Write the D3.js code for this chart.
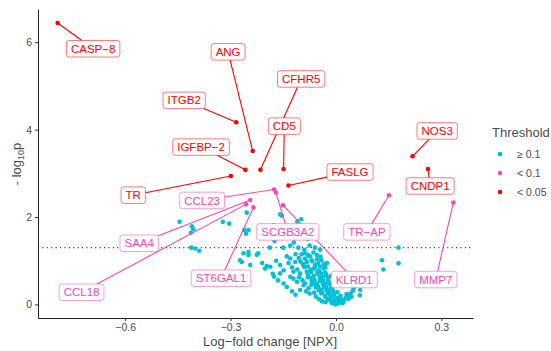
<!DOCTYPE html>
<html><head><meta charset="utf-8">
<script src="https://cdn.jsdelivr.net/npm/d3@7"></script>
<style>body{margin:0;background:#fff} text{font-family:"Liberation Sans",Arial,Helvetica,sans-serif}</style>
</head><body><svg id="c" width="551" height="351"></svg>
<script>
// ---- data ----
const redNames = ["CASP−8","ITGB2","ANG","IGFBP−2","CFHR5","CD5","FASLG","TR","NOS3","CNDP1"];
const redX = [-0.792,-0.284,-0.237,-0.258,-0.215,-0.149,-0.135,-0.299,0.218,0.262];
const redY = [6.44,4.17,3.51,3.08,3.08,3.10,2.72,2.94,3.39,3.10];
const redLabelX = [-0.691,-0.432,-0.307,-0.384,-0.099,-0.147,0.040,-0.577,0.288,0.268];
const redLabelY = [5.85,4.67,5.78,3.60,5.16,4.08,3.03,2.50,3.97,2.71];

const pinkNames = ["CCL23","SCGB3A2","SAA4","CCL18","ST6GAL1","KLRD1","TR−AP","MMP7"];
const pinkX = [-0.176,-0.171,-0.244,-0.256,-0.235,-0.151,0.151,0.334];
const pinkY = [2.63,2.56,2.39,2.29,2.22,2.27,2.50,2.33];
const pinkLabelX = [-0.381,-0.137,-0.560,-0.724,-0.327,0.052,0.088,0.284];
const pinkLabelY = [2.38,1.66,1.40,0.28,0.60,0.57,1.66,0.57];

const cyanX = [
 -0.445,-0.410,-0.406,-0.413,-0.412,-0.401,-0.389,-0.322,-0.304,-0.273,-0.263,-0.261,-0.256,-0.249,-0.254,-0.221,-0.159,-0.249,-0.225,-0.268,-0.244,-0.249,
 -0.154,-0.099,-0.110,-0.178,-0.160,-0.125,-0.095,-0.140,-0.080,-0.175,-0.120,-0.188,-0.150,-0.107,-0.130,-0.090,
 -0.159,-0.130,-0.116,-0.093,-0.069,-0.054,-0.088,-0.149,-0.121,-0.102,-0.064,-0.202,-0.187,-0.159,-0.121,-0.111,-0.149,-0.102,-0.088,-0.078,-0.130,-0.197,-0.176,
 -0.098,-0.079,-0.064,-0.044,-0.106,-0.088,-0.074,-0.054,-0.042,-0.101,-0.083,-0.067,-0.051,-0.035,-0.093,-0.080,-0.060,-0.046,-0.032,
 -0.090,-0.072,-0.059,-0.048,-0.035,-0.083,-0.070,-0.053,-0.042,-0.030,-0.080,-0.063,-0.052,-0.038,-0.028,-0.071,-0.061,-0.046,-0.036,-0.023,
 -0.069,-0.054,-0.045,-0.030,-0.021,-0.061,-0.050,-0.037,-0.028,-0.016,-0.057,-0.043,-0.034,-0.022,-0.014,-0.048,-0.039,-0.027,-0.019,-0.008,
 -0.042,-0.030,-0.022,-0.011,-0.005,-0.031,-0.023,-0.012,-0.006,0.004,-0.024,-0.013,-0.007,0.002,0.009,-0.011,-0.002,0.006,
 0.012,0.016,0.022,0.027,0.031,0.036,0.040,0.044,0.047,0.050,0.055,0.060,0.069,0.068,0.030,0.019,
 0.178,0.131,0.135,0.178,
 -0.140,-0.125,-0.110,-0.105,-0.095,-0.092,-0.085,-0.075,-0.070,-0.080,-0.062,-0.057,-0.048,-0.040,-0.030,-0.019,-0.027,-0.016,-0.008,0.008,
 0.013,0.004,-0.010,-0.022,-0.015,-0.030,-0.025,-0.045,-0.060,-0.075,-0.115,-0.135,-0.170,-0.180,-0.165,-0.140,-0.125,-0.115,-0.210];
const cyanY = [
 1.89,1.79,1.72,1.64,1.30,1.28,1.23,1.89,1.85,1.01,1.17,1.70,1.62,1.70,2.10,1.17,2.06,1.20,1.14,0.97,0.90,1.13,
 2.03,1.95,1.90,1.81,1.74,1.70,1.62,1.55,1.50,1.45,1.42,1.30,1.30,1.30,1.35,1.25,
 0.90,1.05,0.97,0.90,1.01,1.13,1.17,0.78,0.75,0.71,0.82,0.82,0.86,0.71,0.59,0.52,0.48,0.33,0.48,0.37,0.63,0.88,0.64,
 1.15,1.13,1.19,1.09,1.06,1.05,1.10,1.04,1.01,0.98,0.97,0.99,0.94,0.92,0.93,0.87,0.90,0.87,0.88,
 0.85,0.79,0.84,0.77,0.82,0.75,0.74,0.74,0.71,0.73,0.69,0.65,0.70,0.62,0.67,0.61,0.56,0.62,0.55,0.60,
 0.53,0.48,0.54,0.47,0.50,0.46,0.41,0.47,0.40,0.45,0.39,0.34,0.40,0.33,0.36,0.32,0.27,0.33,0.26,0.31,
 0.25,0.20,0.26,0.19,0.22,0.18,0.13,0.18,0.12,0.15,0.11,0.06,0.11,0.05,0.08,0.03,0.00,0.02,
 0.05,0.11,0.08,0.14,0.19,0.13,0.24,0.18,0.30,0.36,0.42,0.49,0.33,0.21,0.24,0.03,
 1.30,1.01,0.80,0.94,
 1.10,0.85,0.80,0.62,0.55,0.44,0.30,0.25,0.45,0.62,0.27,0.18,0.12,0.07,0.05,0.13,0.37,0.22,0.05,0.14,
 0.20,0.28,0.40,0.55,0.65,0.85,0.95,1.25,1.30,1.35,1.15,0.95,1.00,0.70,0.55,0.40,0.30,0.22,0.95];

const xTicks = [-0.6,-0.3,0.0,0.3];
const yTicks = [0,2,4,6];
const threshold = -Math.log10(0.05);
const legendLabels = ["≥ 0.1","< 0.1","< 0.05"];

// ---- style ----
const C_CYAN = "#00BFD8", C_PINK = "#F748B7", C_RED = "#FF0000";
const legendColors = [C_CYAN, C_PINK, C_RED];

const svg = d3.select("#c");
const W = 551, H = 351;
const m = {l:38, t:9, r:78, b:33};
const x = d3.scaleLinear().domain([-0.848,0.39]).range([m.l, W-m.r]);
const y = d3.scaleLinear().domain([-0.31,6.76]).range([H-m.b, m.t]);

// threshold line
svg.append("line").attr("x1", m.l).attr("x2", W-m.r)
  .attr("y1", y(threshold)).attr("y2", y(threshold))
  .attr("stroke","#333").attr("stroke-width",1.1).attr("stroke-dasharray","1.1,3.3");

// cyan points
svg.append("g").selectAll("circle").data(cyanX.map((d,i)=>[d,cyanY[i]])).join("circle")
  .attr("cx",d=>x(d[0])).attr("cy",d=>y(d[1])).attr("r",2.3).attr("fill",C_CYAN);

// axes
const xAxis = svg.append("g").attr("transform",`translate(0,${H-m.b})`)
  .call(d3.axisBottom(x).tickValues(xTicks).tickFormat(d3.format(".1f")).tickSizeInner(3).tickSizeOuter(0).tickPadding(3));
const yAxis = svg.append("g").attr("transform",`translate(${m.l},0)`)
  .call(d3.axisLeft(y).tickValues(yTicks).tickFormat(d3.format("d")).tickSizeInner(3).tickSizeOuter(0).tickPadding(3));
[xAxis,yAxis].forEach(a=>{
  a.selectAll("text").attr("fill","#4D4D4D").style("font-size","10.5px").style("font-family",'"Liberation Sans",Arial,sans-serif');
  a.selectAll("line").attr("stroke","#333");
  a.select(".domain").attr("stroke","#222").attr("stroke-width",1);
});

// axis titles
svg.append("text").attr("x",270).attr("y",346).attr("text-anchor","middle")
  .attr("fill","#4D4D4D").style("font-size","13px").text("Log−fold change [NPX]");
const yt = svg.append("text").attr("transform","translate(21,164) rotate(-90)").attr("text-anchor","middle")
  .attr("fill","#4D4D4D").style("font-size","13px");
yt.append("tspan").text("- log");
yt.append("tspan").attr("dy",3).style("font-size","9px").text("10");
yt.append("tspan").attr("dy",-3).text("p");

// labels with segments
function drawLabels(names, px, py, lx, ly, col){
  const g = svg.append("g");
  const segG = g.append("g"), ptG = g.append("g"), labG = g.append("g");
  names.forEach((n,i)=>{
    const cx = x(lx[i]), cy = y(ly[i]);
    const lg = labG.append("g");
    const r = lg.append("rect");
    const t = lg.append("text").attr("x",cx).attr("y",cy).attr("dy","0.36em")
      .attr("text-anchor","middle").attr("fill",col).style("font-size","11.5px").text(n);
    const tw = t.node().getComputedTextLength();
    const w = tw + 9, h = 16.5;
    r.attr("x",cx-w/2).attr("y",cy-h/2).attr("width",w).attr("height",h).attr("rx",2.5)
      .attr("fill","#fff").attr("stroke",col).attr("stroke-opacity",0.7).attr("stroke-width",0.75);
    const ptx = x(px[i]), pty = y(py[i]);
    const dx = ptx-cx, dy = pty-cy;
    const tt = Math.min(Math.abs(dx)>0? (w/2)/Math.abs(dx):Infinity, Math.abs(dy)>0?(h/2)/Math.abs(dy):Infinity);
    if (tt < 1) {
      segG.append("line").attr("x1",cx+dx*tt).attr("y1",cy+dy*tt).attr("x2",ptx).attr("y2",pty)
        .attr("stroke",col).attr("stroke-width",1.1);
    }
    ptG.append("circle").attr("cx",ptx).attr("cy",pty).attr("r",2.3).attr("fill",col);
  });
}
drawLabels(pinkNames,pinkX,pinkY,pinkLabelX,pinkLabelY,C_PINK);
drawLabels(redNames,redX,redY,redLabelX,redLabelY,C_RED);

// legend
svg.append("text").attr("x",492).attr("y",136.5).attr("fill","#4D4D4D").style("font-size","13px").text("Threshold");
legendLabels.forEach((l,i)=>{
  const yy = 154 + i*19;
  svg.append("circle").attr("cx",500).attr("cy",yy).attr("r",2.3).attr("fill",legendColors[i]);
  svg.append("text").attr("x",517).attr("y",yy+3.8).attr("fill","#4D4D4D").style("font-size","10.5px").text(l);
});
</script></body></html>
